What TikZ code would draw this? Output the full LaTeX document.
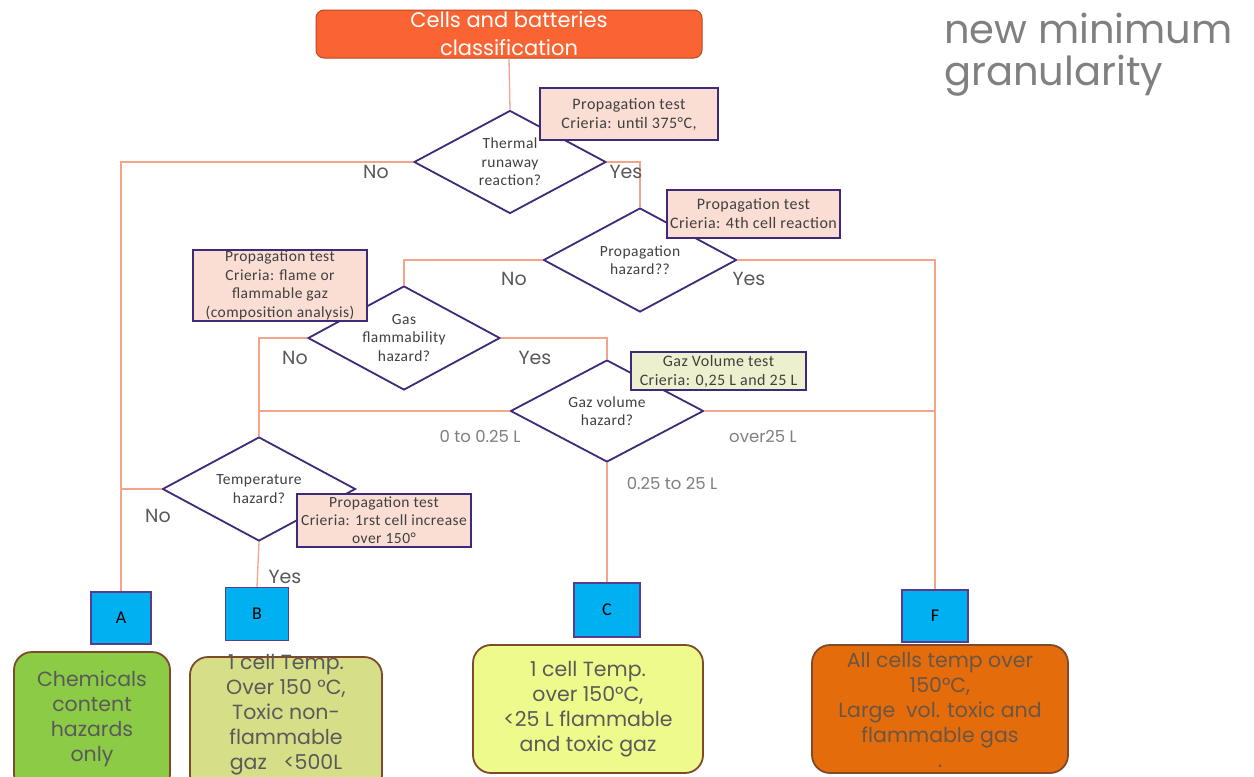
\documentclass[tikz,border=0pt]{standalone}
\usepackage{fontspec}
\setmainfont{Carlito}
\newfontfamily\notefont[LetterSpace=3]{Carlito}
\newfontfamily\popfont{Poppins}
\usetikzlibrary{shapes.geometric}
\definecolor{conn}{HTML}{F4A38C}
\definecolor{purp}{HTML}{3E2A78}
\definecolor{titlefill}{HTML}{FA6432}
\definecolor{titledraw}{HTML}{B94A22}
\definecolor{notepink}{HTML}{FADDD3}
\definecolor{notegreen}{HTML}{EDF0CF}
\definecolor{bluebox}{HTML}{00B0F0}
\definecolor{bluedraw}{HTML}{5B3C8C}
\definecolor{outA}{HTML}{8CCB45}
\definecolor{outB}{HTML}{D6DE87}
\definecolor{outC}{HTML}{EFFA8C}
\definecolor{outF}{HTML}{E46C0A}
\definecolor{outdraw}{HTML}{7F4A2A}
\definecolor{txtgray}{HTML}{5A5A5A}
\definecolor{lblgray}{HTML}{595959}
\definecolor{rnggray}{HTML}{7F7F7F}
\definecolor{headgray}{HTML}{808080}
\definecolor{ftext}{HTML}{6B5646}
\definecolor{darktxt}{HTML}{404040}
\begin{document}
\begin{tikzpicture}[x=1pt,y=-1pt,
  conline/.style={draw=conn, line width=1.3pt},
  titlebox/.style={draw=titledraw, line width=1pt, fill=titlefill, rounded corners=8pt,
    minimum width=386pt, minimum height=48pt, inner sep=0pt, align=center,
    text=white, font=\popfont\fontsize{21}{28}\selectfont},
  dia/.style={diamond, draw=purp, line width=1.8pt, fill=white, inner sep=0pt, aspect=1.86,
    align=center, text=darktxt, font=\notefont\fontsize{15.5}{18.5}\selectfont},
  note/.style={draw=purp, line width=1.8pt, fill=notepink, inner sep=0pt, align=center,
    text=darktxt, font=\notefont\fontsize{16}{19}\selectfont},
  letterbox/.style={draw=bluedraw, line width=1.2pt, fill=bluebox, inner sep=0pt,
    font=\fontsize{18}{20}\selectfont, text=black},
  outbox/.style={draw=outdraw, line width=1.8pt, rounded corners=18pt, inner sep=0pt},
  outtext/.style={align=center, text=txtgray, font=\popfont\fontsize{20.5}{25}\selectfont},
  lbl/.style={text=lblgray, font=\popfont\fontsize{19}{22}\selectfont, inner sep=0pt},
  rng/.style={text=rnggray, font=\popfont\fontsize{16.5}{20}\selectfont, inner sep=0pt}
]
\useasboundingbox (0,0) rectangle (1254,777);
\fill[white] (0,0) rectangle (1254,777);

% heading
\node[text=headgray, align=left, font=\popfont\fontsize{40}{42}\selectfont, inner sep=0pt, anchor=west]
  (head) at (944,55) {new minimum\\granularity};

% title
\node[titlebox] (title) at (509,34) {Cells and batteries\\classification};

% diamonds
\node[dia, minimum width=192pt, minimum height=103pt] (d1) at (510,162) {Thermal\\runaway\\reaction?};
\node[dia, minimum width=193pt, minimum height=104pt] (d2) at (640,260) {Propagation\\hazard??};
\node[dia, minimum width=192pt, minimum height=104pt] (d3) at (404,338) {Gas\\flammability\\hazard?};
\node[dia, minimum width=193pt, minimum height=102pt] (d5) at (607,411) {Gaz volume\\hazard?};
\node[dia, minimum width=193pt, minimum height=104pt] (d4) at (259,489) {Temperature\\hazard?};

% letter boxes
\node[letterbox, minimum width=60pt, minimum height=52pt] (A) at (121,618) {A};
\node[letterbox, minimum width=63pt, minimum height=53pt] (B) at (257,614) {B};
\node[letterbox, minimum width=66pt, minimum height=54pt] (C) at (607,610) {C};
\node[letterbox, minimum width=66pt, minimum height=52pt] (F) at (935,616) {F};

% connectors
\draw[conline] (title.south) -- (d1.north);
\draw[conline] (d1.west) -| (A.north);
\draw[conline] (d1.east) -| (d2.north);
\draw[conline] (d2.west) -| (d3.north);
\draw[conline] (d2.east) -| (F.north);
\draw[conline] (d3.west) -| (d4.north);
\draw[conline] (d3.east) -| (d5.north);
\draw[conline] (d5.west) -- (d5.west -| d4.north);
\draw[conline] (d5.east) -- (d5.east -| F.north);
\draw[conline] (d5.south) -- (C.north);
\draw[conline] (d4.south) -- (B.north);
\draw[conline] (d4.west) -- (d4.west -| A.north);

% notes
\node[note, minimum width=178pt, minimum height=52pt] (n1) at (629,114) {Propagation test\\Crieria: until 375°C,};
\node[note, minimum width=173pt, minimum height=48pt] (n2) at (753.5,214) {Propagation test\\Crieria: 4th cell reaction};
\node[note, minimum width=174pt, minimum height=71pt, font=\notefont\fontsize{15.5}{18.5}\selectfont] (n3) at (280,285.5) {Propagation test\\Crieria: flame or\\flammable gaz\\(composition analysis)};
\node[note, fill=notegreen, minimum width=175pt, minimum height=38pt] (n5) at (718.5,371) {Gaz Volume test\\Crieria: 0,25 L and 25 L};
\node[note, minimum width=174pt, minimum height=53pt, font=\notefont\fontsize{15.5}{18}\selectfont] (n4) at (384,520.5) {Propagation test\\Crieria: 1rst cell increase\\over 150°};

% branch labels
\node[lbl] (l1n) at (376,172) {No};
\node[lbl] (l1y) at (626,172) {Yes};
\node[lbl] (l2n) at (514,279) {No};
\node[lbl] (l2y) at (749,279) {Yes};
\node[lbl] (l3n) at (295,358) {No};
\node[lbl] (l3y) at (535,358) {Yes};
\node[lbl] (l4n) at (158,516) {No};
\node[lbl] (l4y) at (285,577) {Yes};
\node[rng] (r1) at (480,436) {0 to 0.25 L};
\node[rng] (r2) at (763,436) {over25 L};
\node[rng] (r3) at (672,483) {0.25 to 25 L};

% outcome boxes
\node[outbox, fill=outA, minimum width=156pt, minimum height=140pt] (oa) at (92,722) {};
\node[outtext] (oat) at (92,719) {Chemicals\\content\\hazards\\only};
\node[outbox, fill=outB, minimum width=192pt, minimum height=136pt] (ob) at (286,725) {};
\node[outtext] (obt) at (286,715) {1 cell Temp.\\Over 150 °C,\\Toxic non-\\flammable\\gaz\ \ \ {<}500L};
\node[outbox, fill=outC, minimum width=230pt, minimum height=128pt] (oc) at (588,709) {};
\node[outtext] (oct) at (588,709) {1 cell Temp.\\over 150°C,\\{<}25 L flammable\\and toxic gaz};
\node[outbox, fill=outF, minimum width=256pt, minimum height=128pt] (of) at (940,709) {};
\node[outtext, text=ftext] (oft) at (940,710) {All cells temp over\\150°C,\\Large\ \ vol. toxic and\\flammable gas\\.};
\end{tikzpicture}
\end{document}
